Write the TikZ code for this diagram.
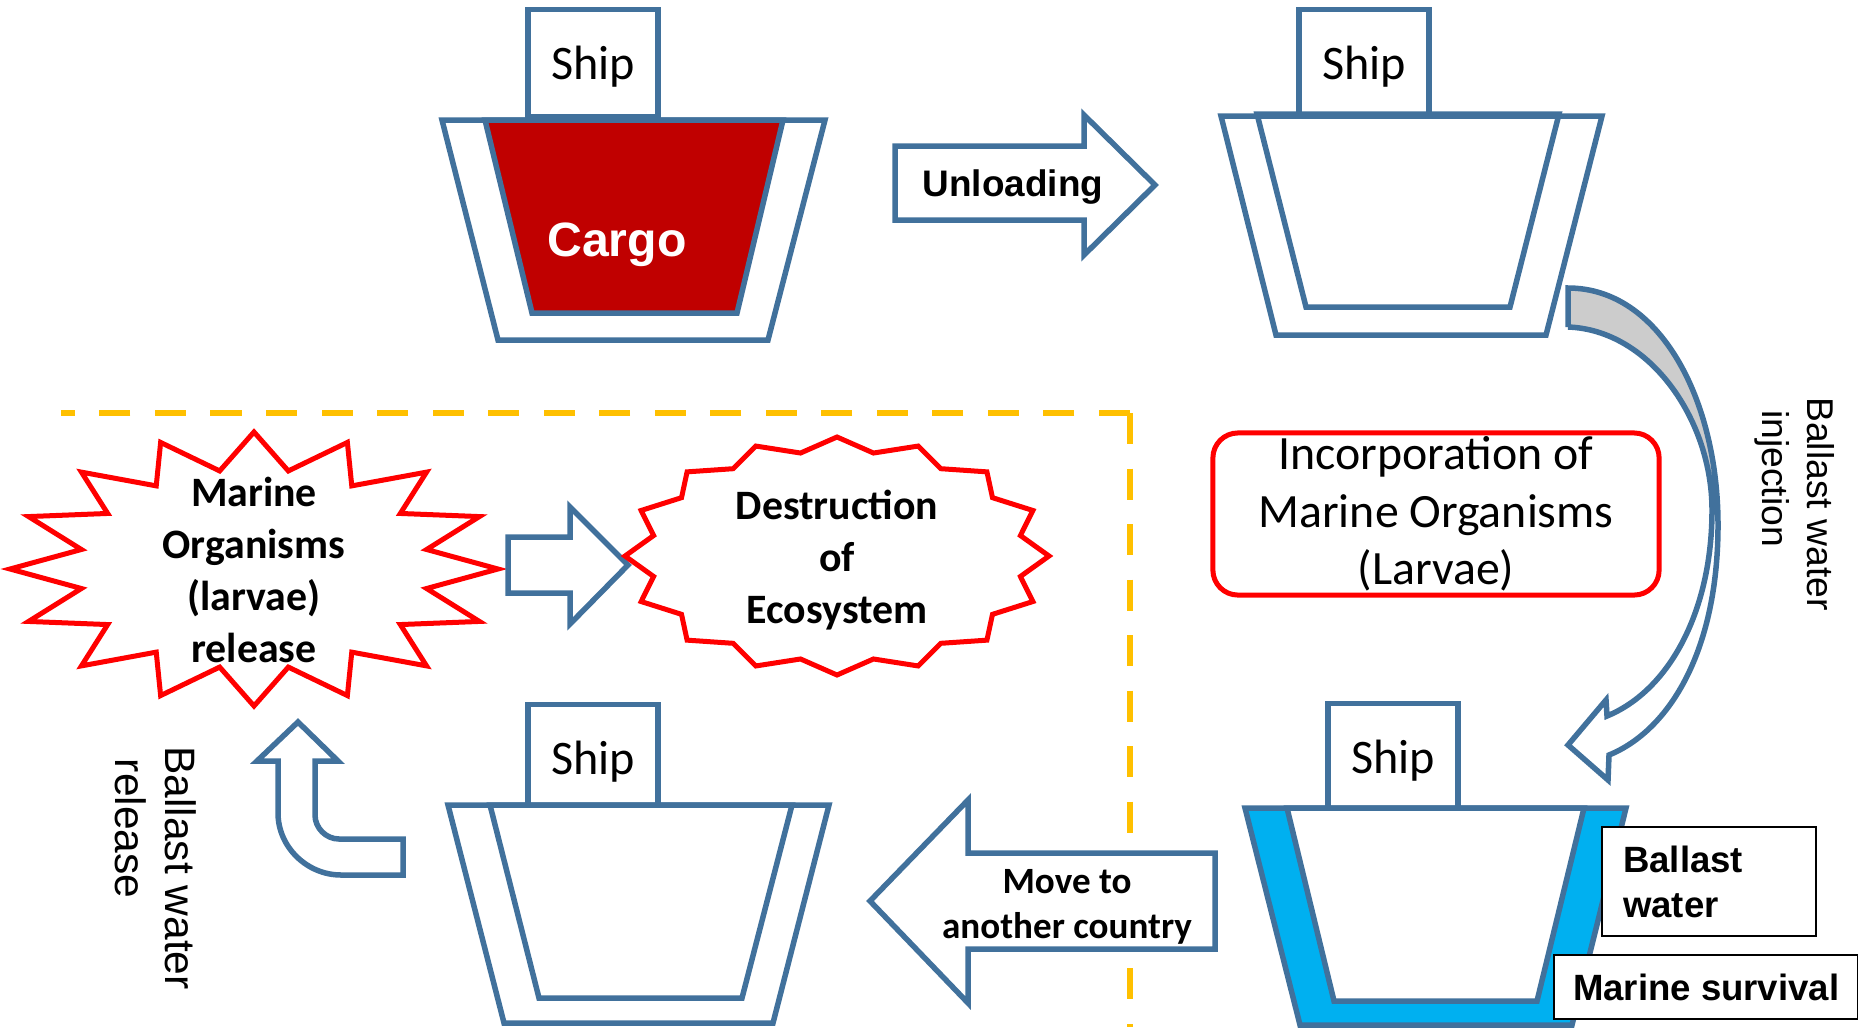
\documentclass[tikz,border=0pt]{standalone}
\usepackage{fontspec}
\setmainfont{Liberation Sans}
\newfontfamily\calibri{Carlito}
\definecolor{shipblue}{HTML}{41719C}
\definecolor{cargored}{HTML}{C00000}
\definecolor{ballastblue}{HTML}{00B0F0}
\definecolor{dashyellow}{HTML}{FFC000}
\definecolor{backgray}{HTML}{CCCCCC}

\begin{document}
\begin{tikzpicture}[x=0.01cm, y=-0.01cm,
  hull/.style={draw=shipblue, line width=0.055cm},
  cabin/.style={draw=shipblue, line width=0.055cm, fill=white, minimum width=1.3cm, minimum height=1.07cm, text depth=0pt, font=\calibri\fontsize{13.7}{16}\selectfont},
  redline/.style={draw=red, line width=0.05cm, fill=white},
  dashline/.style={draw=dashyellow, line width=0.055cm, dash pattern=on 0.31cm off 0.245cm},
  bubbletext/.style={align=center, font=\calibri\bfseries\fontsize{11.9}{14.7}\selectfont},
  tag/.style={draw, line width=0.6pt, fill=white, anchor=north west, inner xsep=0.21cm, align=left, font=\bfseries\fontsize{10.4}{12.8}\selectfont}]
\useasboundingbox (0,0) rectangle (1858,1027);

\node[cabin] (ship1) at (593,63) {Ship};
\draw[hull, fill=white] (442,120) -- (825,120) -- (768,340) -- (498,340) -- cycle;
\draw[hull, fill=cargored] (485,120) -- (783,120) -- (737,313) -- (532,313) -- cycle;
\node[text=white, font=\bfseries\fontsize{13.7}{16}\selectfont] (cargo) at (617,245) {Cargo};

\draw[hull, fill=white] (895,146) -- (1084,146) -- (1084,115) -- (1155,185) -- (1084,255) -- (1084,220) -- (895,220) -- cycle;
\node[font=\bfseries\fontsize{10.5}{12.6}\selectfont] (unload) at (1013,187) {Unloading};

\node[cabin] (ship2) at (1364,63) {Ship};
\draw[hull, fill=white] (1221,116) -- (1602,116) -- (1546,335) -- (1276,335) -- cycle;
\draw[hull] (1257,114) -- (1559,114) -- (1510,307) -- (1306,307) -- cycle;

\fill[backgray] (1568,288) .. controls (1660,288) and (1718,400) .. (1718,525) -- (1712,510) .. controls (1712,420) and (1650,330) .. (1568,327) -- cycle;
\draw[hull] (1568,327) -- (1568,288) .. controls (1660,288) and (1718,400) .. (1718,525) .. controls (1718,650) and (1670,730) .. (1609,755) -- (1608,780) -- (1568,745) -- (1606,700) -- (1607,716) .. controls (1670,690) and (1712,610) .. (1712,510) .. controls (1712,420) and (1650,330) .. (1568,327);
\node[rotate=-90, align=left, font=\fontsize{10.6}{12.8}\selectfont] (inject) at (1795,504) {Ballast water\\\hspace*{0.35em}injection};

\node[draw=red, line width=0.05cm, rounded corners=0.25cm, inner sep=0pt, minimum width=4.46cm, minimum height=1.62cm, align=center, font=\calibri\fontsize{13.6}{16.4}\selectfont] (incorp) at (1436,514) {Incorporation of\\Marine Organisms\\(Larvae)};

\draw[dashline] (1130,413) -- (61,413);
\draw[dashline] (1130,413) -- (1130,1027);

\draw[redline] (254,432) \foreach \i in {1,...,31} { -- ({254+(244-68*mod(\i,2))*cos(90+11.25*\i)}, {569-(137-37*mod(\i,2))*sin(90+11.25*\i)}) } -- cycle;
\node[bubbletext] (release) at (254,570) {Marine\\Organisms\\(larvae)\\release};

\draw[hull, fill=white] (508,537) -- (570,537) -- (570,507) -- (628,565) -- (570,624) -- (570,593) -- (508,593) -- cycle;

\draw[redline] (837,437) \foreach \i in {1,...,31} { -- ({837+(212-25*mod(\i,2))*cos(90+11.25*\i)}, {556-(119-14*mod(\i,2))*sin(90+11.25*\i)}) } -- cycle;
\node[bubbletext] (destroy) at (837,560) {Destruction\\of\\Ecosystem};

\node[cabin] (ship3) at (1393,757) {Ship};
\draw[hull, fill=ballastblue] (1245,808) -- (1626,808) -- (1572,1025) -- (1300,1025) -- cycle;
\draw[hull, fill=white] (1287,808) -- (1584,808) -- (1537,1001) -- (1334,1001) -- cycle;
\node[tag, text width=1.72cm, minimum height=1.09cm] (ballast) at (1601,826) {Ballast\\water};
\node[tag, inner xsep=0pt, minimum width=3.04cm, minimum height=0.64cm] (survival) at (1553,954) {Marine survival};

\draw[hull, fill=white] (1215,853) -- (968,853) -- (968,800) -- (870,901) -- (968,1003) -- (968,949) -- (1215,949) -- cycle;
\node[align=center, font=\calibri\bfseries\fontsize{10.55}{12.8}\selectfont] (move) at (1067,907) {Move to\\another country};

\node[cabin] (ship4) at (593,758) {Ship};
\draw[hull, fill=white] (448,805) -- (829,805) -- (773,1023) -- (504,1023) -- cycle;
\draw[hull] (490,805) -- (792,805) -- (742,998) -- (539,998) -- cycle;

\draw[hull, fill=white] (403,875) -- (341,875) .. controls (307,875) and (278,847) .. (278,813) -- (278,761) -- (257,761) -- (298,722) -- (338,761) -- (315,761) -- (315,815) .. controls (315,828) and (326,839) .. (339,839) -- (403,839) -- cycle;
\node[rotate=-90, align=left, font=\fontsize{12.1}{14.2}\selectfont] (outflow) at (156,868) {Ballast water\\\hspace*{0.3em}release};
\end{tikzpicture}
\end{document}
